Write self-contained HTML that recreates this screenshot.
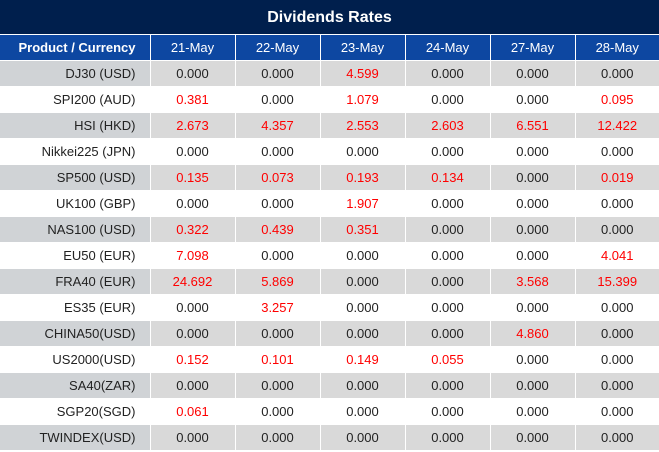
<!DOCTYPE html><html><head><style>
body{margin:0;width:659px;height:452px;overflow:hidden;background:#fff;font-family:"Liberation Sans",sans-serif}
.t{height:34px;background:#001f4d;color:#fff;font-weight:bold;font-size:16px;text-align:center;line-height:36px}
table{border-collapse:collapse;width:659px;table-layout:fixed;margin-top:1px}
td,th{height:25px;padding:0;font-size:13px;text-align:center;border-left:1px solid #fff;border-bottom:1px solid #fff}
th{background:#0d47a1;color:#fff;font-weight:normal;height:25px}
th:first-child{font-weight:bold}
td:first-child,th:first-child{text-align:right;padding-right:14px;border-left:none}
tr:nth-child(even) td{background:#d9d9d9}
tr:nth-child(even) td:first-child{background:#d0d3d6}
td{color:#222}
.r{color:#f00}
</style></head><body>
<div class="t">Dividends Rates</div>
<table>
<colgroup><col style="width:150px"><col style="width:85px"><col style="width:85px"><col style="width:85px"><col style="width:85px"><col style="width:85px"><col style="width:84px"></colgroup>
<tr><th>Product / Currency</th><th>21-May</th><th>22-May</th><th>23-May</th><th>24-May</th><th>27-May</th><th>28-May</th></tr>
<tr><td>DJ30 (USD)</td><td>0.000</td><td>0.000</td><td class="r">4.599</td><td>0.000</td><td>0.000</td><td>0.000</td></tr>
<tr><td>SPI200 (AUD)</td><td class="r">0.381</td><td>0.000</td><td class="r">1.079</td><td>0.000</td><td>0.000</td><td class="r">0.095</td></tr>
<tr><td>HSI (HKD)</td><td class="r">2.673</td><td class="r">4.357</td><td class="r">2.553</td><td class="r">2.603</td><td class="r">6.551</td><td class="r">12.422</td></tr>
<tr><td>Nikkei225 (JPN)</td><td>0.000</td><td>0.000</td><td>0.000</td><td>0.000</td><td>0.000</td><td>0.000</td></tr>
<tr><td>SP500 (USD)</td><td class="r">0.135</td><td class="r">0.073</td><td class="r">0.193</td><td class="r">0.134</td><td>0.000</td><td class="r">0.019</td></tr>
<tr><td>UK100 (GBP)</td><td>0.000</td><td>0.000</td><td class="r">1.907</td><td>0.000</td><td>0.000</td><td>0.000</td></tr>
<tr><td>NAS100 (USD)</td><td class="r">0.322</td><td class="r">0.439</td><td class="r">0.351</td><td>0.000</td><td>0.000</td><td>0.000</td></tr>
<tr><td>EU50 (EUR)</td><td class="r">7.098</td><td>0.000</td><td>0.000</td><td>0.000</td><td>0.000</td><td class="r">4.041</td></tr>
<tr><td>FRA40 (EUR)</td><td class="r">24.692</td><td class="r">5.869</td><td>0.000</td><td>0.000</td><td class="r">3.568</td><td class="r">15.399</td></tr>
<tr><td>ES35 (EUR)</td><td>0.000</td><td class="r">3.257</td><td>0.000</td><td>0.000</td><td>0.000</td><td>0.000</td></tr>
<tr><td>CHINA50(USD)</td><td>0.000</td><td>0.000</td><td>0.000</td><td>0.000</td><td class="r">4.860</td><td>0.000</td></tr>
<tr><td>US2000(USD)</td><td class="r">0.152</td><td class="r">0.101</td><td class="r">0.149</td><td class="r">0.055</td><td>0.000</td><td>0.000</td></tr>
<tr><td>SA40(ZAR)</td><td>0.000</td><td>0.000</td><td>0.000</td><td>0.000</td><td>0.000</td><td>0.000</td></tr>
<tr><td>SGP20(SGD)</td><td class="r">0.061</td><td>0.000</td><td>0.000</td><td>0.000</td><td>0.000</td><td>0.000</td></tr>
<tr><td>TWINDEX(USD)</td><td>0.000</td><td>0.000</td><td>0.000</td><td>0.000</td><td>0.000</td><td>0.000</td></tr>
</table></body></html>
